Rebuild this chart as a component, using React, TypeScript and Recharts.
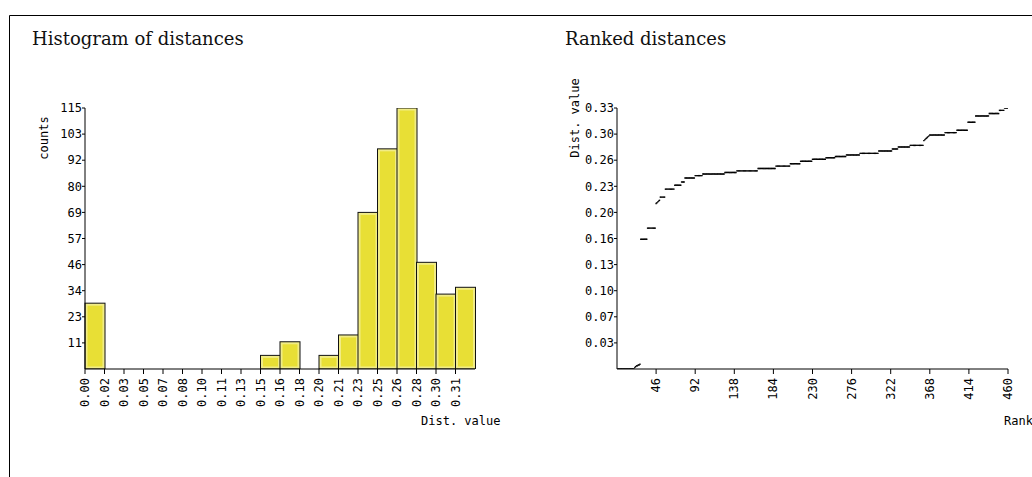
import React from "react";
import {
  BarChart,
  Bar,
  XAxis,
  YAxis,
  ScatterChart,
  Scatter,
} from "recharts";

// ---------- Histogram data ----------
const histBinLabels = [
  "0.00", "0.02", "0.03", "0.05", "0.07", "0.08", "0.10", "0.11", "0.13", "0.15",
  "0.16", "0.18", "0.20", "0.21", "0.23", "0.25", "0.26", "0.28", "0.30", "0.31",
];
const histCounts = [29, 0, 0, 0, 0, 0, 0, 0, 0, 6, 12, 0, 6, 15, 69, 97, 115, 47, 33, 36];
const histYTicks = [11.5, 23, 34.5, 46, 57.5, 69, 80.5, 92, 103.5, 115];
const histYLabels = ["11", "23", "34", "46", "57", "69", "80", "92", "103", "115"];

// ---------- Ranked data ----------
const rankedValues = [
  0, 0, 0, 0, 0, 0, 0, 0, 0, 0, 0, 0, 0, 0, 0, 0, 0, 0, 0, 0,
  0.002, 0.003, 0.004, 0.004, 0.005, 0.005, 0.006,
  0.163, 0.163, 0.163, 0.163, 0.163, 0.163, 0.163, 0.163,
  0.177, 0.177, 0.177, 0.177, 0.177, 0.177, 0.177, 0.177, 0.177, 0.177,
  0.208, 0.209, 0.21, 0.211, 0.212,
  0.216, 0.216, 0.216, 0.216, 0.216, 0.216,
  0.226, 0.226, 0.226, 0.226, 0.226, 0.226, 0.226, 0.226, 0.226, 0.226, 0.226,
  0.231, 0.231, 0.231, 0.231, 0.231, 0.231, 0.231, 0.231,
  0.235, 0.235, 0.235, 0.235,
  0.24, 0.24, 0.24, 0.24, 0.24, 0.24, 0.24, 0.24, 0.24, 0.24, 0.24, 0.24,
  0.243, 0.243, 0.243, 0.243, 0.243, 0.243, 0.243, 0.243, 0.243,
  0.245, 0.245, 0.245, 0.245, 0.245, 0.245, 0.245, 0.245, 0.245, 0.245,
  0.245, 0.245, 0.245, 0.245, 0.245, 0.245, 0.245, 0.245, 0.245, 0.245,
  0.245, 0.245, 0.245, 0.245, 0.245, 0.245,
  0.247, 0.247, 0.247, 0.247, 0.247, 0.247, 0.247, 0.247, 0.247, 0.247, 0.247, 0.247, 0.247, 0.247,
  0.249, 0.249, 0.249, 0.249, 0.249, 0.249, 0.249, 0.249, 0.249, 0.249,
  0.249, 0.249, 0.249, 0.249, 0.249, 0.249, 0.249, 0.249, 0.249, 0.249,
  0.249, 0.249, 0.249, 0.249, 0.249,
  0.252, 0.252, 0.252, 0.252, 0.252, 0.252, 0.252, 0.252, 0.252, 0.252,
  0.252, 0.252, 0.252, 0.252, 0.252, 0.252, 0.252, 0.252, 0.252, 0.252, 0.252,
  0.255, 0.255, 0.255, 0.255, 0.255, 0.255, 0.255, 0.255, 0.255, 0.255,
  0.255, 0.255, 0.255, 0.255, 0.255, 0.255, 0.255,
  0.258, 0.258, 0.258, 0.258, 0.258, 0.258, 0.258, 0.258, 0.258, 0.258, 0.258, 0.258,
  0.261, 0.261, 0.261, 0.261, 0.261, 0.261, 0.261, 0.261, 0.261, 0.261, 0.261, 0.261, 0.261, 0.261,
  0.2635, 0.2635, 0.2635, 0.2635, 0.2635, 0.2635, 0.2635, 0.2635,
  0.2635, 0.2635, 0.2635, 0.2635, 0.2635, 0.2635, 0.2635, 0.2635,
  0.2655, 0.2655, 0.2655, 0.2655, 0.2655, 0.2655, 0.2655, 0.2655, 0.2655, 0.2655, 0.2655,
  0.267, 0.267, 0.267, 0.267, 0.267, 0.267, 0.267, 0.267, 0.267, 0.267, 0.267, 0.267, 0.267,
  0.269, 0.269, 0.269, 0.269, 0.269, 0.269, 0.269, 0.269,
  0.269, 0.269, 0.269, 0.269, 0.269, 0.269, 0.269, 0.269,
  0.271, 0.271, 0.271, 0.271, 0.271, 0.271, 0.271, 0.271, 0.271, 0.271, 0.271,
  0.271, 0.271, 0.271, 0.271, 0.271, 0.271, 0.271, 0.271, 0.271, 0.271, 0.271,
  0.274, 0.274, 0.274, 0.274, 0.274, 0.274, 0.274, 0.274,
  0.274, 0.274, 0.274, 0.274, 0.274, 0.274, 0.274, 0.274,
  0.2765, 0.2765, 0.2765, 0.2765, 0.2765, 0.2765, 0.2765,
  0.279, 0.279, 0.279, 0.279, 0.279, 0.279, 0.279, 0.279, 0.279, 0.279, 0.279, 0.279, 0.279, 0.279,
  0.281, 0.281, 0.281, 0.281, 0.281, 0.281, 0.281, 0.281,
  0.281, 0.281, 0.281, 0.281, 0.281, 0.281, 0.281, 0.281,
  0.287, 0.288, 0.289, 0.29, 0.291, 0.292, 0.293,
  0.294, 0.294, 0.294, 0.294, 0.294, 0.294, 0.294, 0.294, 0.294,
  0.294, 0.294, 0.294, 0.294, 0.294, 0.294, 0.294, 0.294, 0.294,
  0.297, 0.297, 0.297, 0.297, 0.297, 0.297, 0.297, 0.297, 0.297, 0.297, 0.297, 0.297, 0.297, 0.297,
  0.3, 0.3, 0.3, 0.3, 0.3, 0.3, 0.3, 0.3, 0.3, 0.3, 0.3, 0.3, 0.3,
  0.31, 0.31, 0.31, 0.31, 0.31, 0.31, 0.31, 0.31, 0.31,
  0.318, 0.318, 0.318, 0.318, 0.318, 0.318, 0.318, 0.318,
  0.318, 0.318, 0.318, 0.318, 0.318, 0.318, 0.318, 0.318,
  0.321, 0.321, 0.321, 0.321, 0.321, 0.321, 0.321, 0.321, 0.321, 0.321, 0.321, 0.321,
  0.325, 0.325, 0.325, 0.325, 0.325, 0.325,
  0.328, 0.328, 0.328, 0.328, 0.328,
];
const rankXTicks = [46, 92, 138, 184, 230, 276, 322, 368, 414, 460];
const rankYTicks = [0.0328, 0.0656, 0.0984, 0.1312, 0.164, 0.1968, 0.2296, 0.2624, 0.2952, 0.328];
const rankYLabels = ["0.03", "0.07", "0.10", "0.13", "0.16", "0.20", "0.23", "0.26", "0.30", "0.33"];

const histData = histCounts.map((c, i) => ({ label: histBinLabels[i], count: c }));
const rankedData = rankedValues.map((v, i) => ({ rank: i + 1, value: v }));

const MONO = "DejaVu Sans Mono";
const SERIF = "DejaVu Serif";
const X_TICK_SIZE = 5;
const X_TICK_MARGIN = 4;

// Rotated tick label; for the histogram ("edge" mode) the tick sits on the left edge of each bin.
const RotTick = (props: any) => {
  const { x, y, payload, edge, width, visibleTicksCount } = props;
  let tx = x;
  if (edge) {
    const half =
      payload && typeof payload.offset === "number" && payload.offset > 0
        ? payload.offset
        : width && visibleTicksCount
        ? width / visibleTicksCount / 2
        : 0;
    tx = x - half;
  }
  const text = String(payload.value);
  return (
    <g>
      {edge ? (
        <line
          x1={tx}
          x2={tx}
          y1={y - X_TICK_MARGIN - X_TICK_SIZE}
          y2={y - X_TICK_MARGIN}
          stroke="#000"
        />
      ) : null}
      <text
        x={tx}
        y={y}
        transform={`rotate(-90 ${tx} ${y})`}
        textAnchor="end"
        dominantBaseline="central"
        fontFamily={MONO}
        fontSize={12}
        fill="#000"
      >
        {text}
      </text>
    </g>
  );
};

const HistBarShape = (props: any) => {
  const { x, y, width, height } = props;
  if (!height || height <= 0) return null;
  return (
    <g>
      <rect x={x} y={y} width={width} height={height} fill="#f1ec86" stroke="#111" strokeWidth={1} />
      {width > 5 && height > 5 ? (
        <rect x={x + 2.5} y={y + 2.5} width={width - 5} height={height - 5} fill="#e8df35" />
      ) : null}
    </g>
  );
};

const DashShape = (props: any) => {
  const { cx, cy } = props;
  if (cx == null || cy == null) return null;
  return <line x1={cx - 0.7} x2={cx + 0.7} y1={cy} y2={cy} stroke="#000" strokeWidth={1.4} />;
};

export default function App() {
  return (
    <div style={{ position: "fixed", left: 0, top: 0, width: 1032, height: 477, overflow: "hidden", background: "#fff" }}>
      <div style={{ position: "absolute", left: 0, top: 0 }}>
        <BarChart
          width={520}
          height={477}
          data={histData}
          margin={{ top: 108, right: 45, left: 40, bottom: 63 }}
          barCategoryGap={0}
          barGap={0}
        >
          <XAxis
            dataKey="label"
            interval={0}
            height={45}
            axisLine={{ stroke: "#000" }}
            tickLine={false}
            tickSize={X_TICK_SIZE}
            tickMargin={X_TICK_MARGIN}
            tick={<RotTick edge />}
          />
          <YAxis
            type="number"
            domain={[0, 115]}
            ticks={histYTicks}
            interval={0}
            width={45}
            axisLine={{ stroke: "#000" }}
            tickLine={{ stroke: "#000" }}
            tickSize={3}
            tickMargin={0}
            tickFormatter={(v: number) => histYLabels[histYTicks.indexOf(v)] ?? ""}
            tick={{ fontFamily: MONO, fontSize: 12, fill: "#000" }}
            allowDataOverflow
          />
          <Bar dataKey="count" shape={<HistBarShape />} isAnimationActive={false} />
        </BarChart>
      </div>
      <div style={{ position: "absolute", left: 520, top: 0 }}>
        <ScatterChart width={512} height={477} margin={{ top: 108, right: 24, left: 52, bottom: 63 }}>
          <XAxis
            type="number"
            dataKey="rank"
            domain={[0, 460]}
            ticks={rankXTicks}
            interval={0}
            height={45}
            axisLine={{ stroke: "#000" }}
            tickLine={{ stroke: "#000" }}
            tickSize={X_TICK_SIZE}
            tickMargin={X_TICK_MARGIN}
            tick={<RotTick />}
            allowDataOverflow
          />
          <YAxis
            type="number"
            dataKey="value"
            domain={[0, 0.328]}
            ticks={rankYTicks}
            interval={0}
            width={45}
            axisLine={{ stroke: "#000" }}
            tickLine={{ stroke: "#000" }}
            tickSize={3}
            tickMargin={0}
            tickFormatter={(v: number) => rankYLabels[rankYTicks.indexOf(v)] ?? ""}
            tick={{ fontFamily: MONO, fontSize: 12, fill: "#000" }}
            allowDataOverflow
          />
          <Scatter data={rankedData} shape={<DashShape />} isAnimationActive={false} />
        </ScatterChart>
      </div>
      <svg width={1032} height={477} style={{ position: "absolute", left: 0, top: 0, pointerEvents: "none" }}>
        <line x1={9.5} y1={15.5} x2={1032} y2={15.5} stroke="#000" strokeWidth={1} />
        <line x1={9.5} y1={15.5} x2={9.5} y2={477} stroke="#000" strokeWidth={1} />
        <text x={32} y={45} fontFamily={SERIF} fontSize={18} fill="#111">Histogram of distances</text>
        <text x={565} y={45} fontFamily={SERIF} fontSize={18} fill="#111">Ranked distances</text>
        <text transform="translate(48,138) rotate(-90)" textAnchor="middle" fontFamily={MONO} fontSize={12} fill="#000">counts</text>
        <text transform="translate(579,118) rotate(-90)" textAnchor="middle" fontFamily={MONO} fontSize={12} fill="#000">Dist. value</text>
        <text x={421} y={425} fontFamily={MONO} fontSize={12} fill="#000">Dist. value</text>
        <text x={1004} y={425} fontFamily={MONO} fontSize={12} fill="#000">Rank</text>
      </svg>
    </div>
  );
}
